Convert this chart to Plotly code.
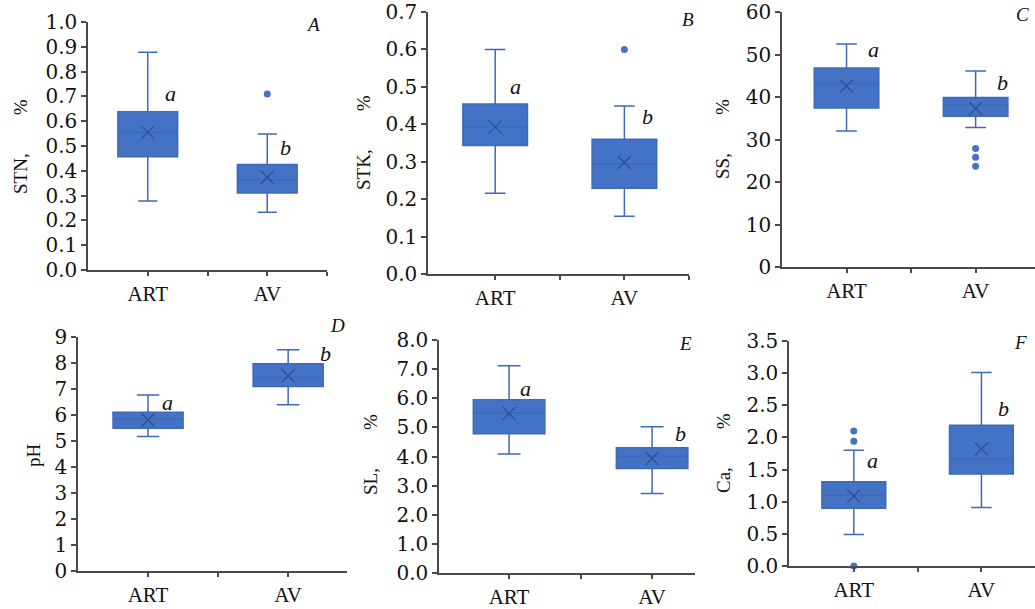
import plotly.graph_objects as go

W, H = 1035, 609

categories = ["ART", "AV"]

SP = "\u00a0" * 8

# Panel data: q1, median, q3, lower whisker, upper whisker, mean, outliers
panels = {
    "A": dict(title="STN," + SP + "%", ymax=1.0, dtick=0.1, fmt=".1f",
              q1=[0.457, 0.310], med=[0.554, 0.364], q3=[0.638, 0.425],
              lo=[0.278, 0.233], hi=[0.878, 0.548], mean=[0.555, 0.374],
              out_x=["AV"], out_y=[0.710], letters=["a", "b"]),
    "B": dict(title="STK," + SP + "%", ymax=0.7, dtick=0.1, fmt=".1f",
              q1=[0.343, 0.229], med=[0.393, 0.294], q3=[0.454, 0.360],
              lo=[0.216, 0.154], hi=[0.600, 0.449], mean=[0.393, 0.298],
              out_x=["AV"], out_y=[0.600], letters=["a", "b"]),
    "C": dict(title="SS," + SP + "%", ymax=60, dtick=10, fmt="d",
              q1=[37.4, 35.5], med=[43.2, 38.1], q3=[46.8, 39.9],
              lo=[32.0, 32.8], hi=[52.5, 46.1], mean=[42.6, 37.3],
              out_x=["AV", "AV", "AV"], out_y=[27.9, 25.8, 23.7], letters=["a", "b"]),
    "D": dict(title="pH", ymax=9, dtick=1, fmt="d",
              q1=[5.49, 7.10], med=[5.84, 7.44], q3=[6.11, 7.97],
              lo=[5.17, 6.39], hi=[6.77, 8.51], mean=[5.81, 7.51],
              out_x=[], out_y=[], letters=["a", "b"]),
    "E": dict(title="SL," + SP + "%", ymax=8.0, dtick=1.0, fmt=".1f",
              q1=[4.78, 3.59], med=[5.50, 4.00], q3=[5.95, 4.30],
              lo=[4.09, 2.73], hi=[7.12, 5.02], mean=[5.48, 3.93],
              out_x=[], out_y=[], letters=["a", "b"]),
    "F": dict(title="Ca," + SP + "%", ymax=3.5, dtick=0.5, fmt=".1f",
              q1=[0.90, 1.43], med=[1.10, 1.66], q3=[1.31, 2.19],
              lo=[0.49, 0.91], hi=[1.80, 3.01], mean=[1.09, 1.82],
              out_x=["ART", "ART", "ART"], out_y=[2.10, 1.94, 0.0], letters=["a", "b"]),
}

# layout in pixels: (x_left, x_right, y_top, y_bottom, xrange_lo, xrange_hi)
geom = {
    "A": (88, 327, 22, 270, -0.5, 1.5),
    "B": (428, 689, 12, 274, -0.52, 1.5),
    "C": (782, 1035, 12, 267, -0.5, 1.46),
    "D": (78, 347, 337, 571, -0.5, 1.42),
    "E": (439, 695, 340, 573, -0.49, 1.30),
    "F": (789, 1035, 341, 566, -0.508, 1.42),
}
# label positions in pixels: (title_x, title_y, a_x, a_y, b_x, b_y, letter_x, letter_y)
labels = {
    "A": (20, 147, 170, 93, 285, 147, 313, 25),
    "B": (363, 143, 515, 86, 647, 117, 688, 20),
    "C": (722, 139, 873, 49, 1002, 83, 1022, 15),
    "D": (33, 455, 167, 402, 325, 353, 337, 325),
    "E": (370, 455, 525, 388, 680, 433, 685, 343),
    "F": (723, 453, 872, 460, 1003, 408, 1020, 342),
}

FILL = "#4472C4"
EDGE = "#3E69B8"
DARK = "#2F5191"
AXC = "#4a4a4a"
FONT = "Liberation Serif"
TICKFONT = "DejaVu Serif"

fig = go.Figure()
pos = {c: i for i, c in enumerate(categories)}
annotations = []


def px(x):
    return x / W


def py(y):
    return 1 - y / H


for i, (key, p) in enumerate(panels.items()):
    n = "" if i == 0 else str(i + 1)
    xa, ya = "x" + n, "y" + n
    xs = [pos[c] for c in categories]
    fig.add_trace(go.Box(
        x=xs, q1=p["q1"], median=p["med"], q3=p["q3"],
        lowerfence=p["lo"], upperfence=p["hi"],
        width=0.5, whiskerwidth=0.32, fillcolor=FILL,
        line=dict(color=EDGE, width=1.5), boxpoints=False,
        xaxis=xa, yaxis=ya, showlegend=False, hoverinfo="skip"))
    fig.add_trace(go.Scatter(
        x=xs, y=p["mean"], mode="markers",
        marker=dict(symbol="x-thin-open", size=13, color=DARK,
                    line=dict(color=DARK, width=1.3)),
        xaxis=xa, yaxis=ya, showlegend=False, hoverinfo="skip"))
    if p["out_y"]:
        fig.add_trace(go.Scatter(
            x=[pos[c] for c in p["out_x"]], y=p["out_y"], mode="markers",
            marker=dict(symbol="circle", size=7, color=FILL),
            cliponaxis=False,
            xaxis=xa, yaxis=ya, showlegend=False, hoverinfo="skip"))

    x0, x1, y0, y1, r0, r1 = geom[key]
    ax_common = dict(showgrid=False, zeroline=False, showline=True, linecolor=AXC,
                     linewidth=1.5, ticks="outside", tickcolor=AXC, tickwidth=1.5,
                     automargin=False, ticklabeloverflow="allow")
    fig.layout["xaxis" + n] = dict(
        ax_common, domain=[px(x0), px(x1)], range=[r0, r1], anchor=ya,
        tickvals=[0, 0.5, 1, 1.5], ticktext=[categories[0], "", categories[1], ""],
        ticklen=4, fixedrange=True,
        tickfont=dict(family=FONT, size=21, color="#111"))
    fig.layout["yaxis" + n] = dict(
        ax_common, domain=[py(y1), py(y0)], range=[0, p["ymax"] * 1.000001],
        anchor=xa, dtick=p["dtick"], tick0=0, tickformat=p["fmt"], ticklen=5,
        fixedrange=True,
        tickfont=dict(family=TICKFONT, size=20, color="#111"))

    tx, ty, ax_, ay_, bx, by, lx, ly = labels[key]
    base = dict(xref="paper", yref="paper", xanchor="center", yanchor="middle",
                showarrow=False)
    annotations.append(dict(base, x=px(tx), y=py(ty), text=p["title"], textangle=-90,
                            font=dict(family=FONT, size=19, color="#111")))
    for t, xx, yy in ((p["letters"][0], ax_, ay_), (p["letters"][1], bx, by)):
        annotations.append(dict(base, x=px(xx), y=py(yy), text="<i>" + t + "</i>",
                                font=dict(family=FONT, size=22, color="#111")))
    annotations.append(dict(base, x=px(lx), y=py(ly), text="<i>" + key + "</i>",
                            font=dict(family=FONT, size=19, color="#111")))

fig.update_layout(
    width=W, height=H, margin=dict(l=0, r=0, t=0, b=0, pad=0, autoexpand=False),
    paper_bgcolor="white", plot_bgcolor="white",
    annotations=annotations, showlegend=False,
)

fig.write_html("out.html", config={"displayModeBar": False},
               post_script="document.body.style.margin='0';document.body.style.overflow='hidden';")
